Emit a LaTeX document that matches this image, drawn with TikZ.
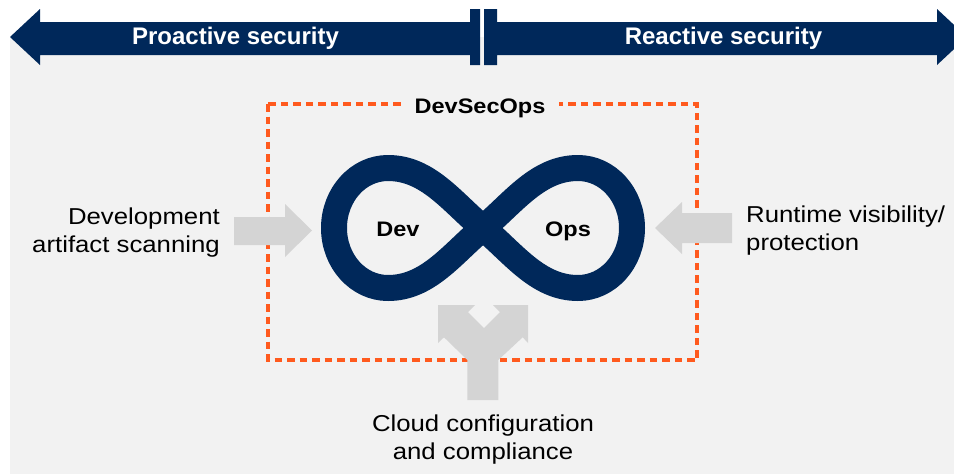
\documentclass[tikz,border=0pt]{standalone}
\usepackage{fontspec}
\setmainfont{Liberation Sans}
\newfontfamily\widefont{Liberation Sans}[FakeStretch=1.12]

\definecolor{navy}{HTML}{00285A}
\definecolor{panelgrey}{HTML}{F2F2F2}
\definecolor{arrowgrey}{HTML}{D4D4D4}
\definecolor{dsorange}{HTML}{FF5A1E}

\tikzset{
    toplabel/.style={font=\bfseries\fontsize{24}{28}\selectfont, text=white, inner sep=0pt},
    looplabel/.style={font=\widefont\bfseries\fontsize{21}{25}\selectfont, inner sep=0pt},
    sidetext/.style={font=\widefont\fontsize{23}{28.5}\selectfont, inner sep=0pt},
    blockarrow/.style={fill=arrowgrey, draw=none},
}

\begin{document}
\begin{tikzpicture}[x=1pt, y=-1pt]

        \useasboundingbox (0,0) rectangle (954,475);
        \fill[panelgrey] (10,37) rectangle (954,474);  % grey panel

        % Proactive / reactive arrows
        \fill[navy] (10,37) -- (40,9) -- (40,22) -- (470,22) -- (470,9) -- (480,9)
            -- (480,65) -- (470,65) -- (470,55) -- (40,55) -- (40,65) -- cycle;
        \fill[navy] (967,37) -- (937,65) -- (937,55) -- (497,55) -- (497,65) -- (484,65)
            -- (484,9) -- (497,9) -- (497,22) -- (937,22) -- (937,9) -- cycle;

        \node[toplabel, anchor=base] (proactive) at (235.5,44.5) {Proactive security};
        \node[toplabel, anchor=base] (reactive) at (723.5,44.5) {Reactive security};

        % DevSecOps box
        \draw[dsorange, line width=3.2pt, dash pattern=on 7.5pt off 5pt] (268,104) rectangle (697,360);
        \node[looplabel, fill=panelgrey, inner xsep=14pt, anchor=base] (devsecops) at (480,113) {DevSecOps};

        % Infinity loop
        \draw[navy, line width=26pt, line join=round]
            (578,168) .. controls (608,168) and (632,195) .. (632,228)
            .. controls (632,261) and (608,288) .. (578,288)
            .. controls (538,288) and (514,254) .. (483,228)
            .. controls (452,202) and (428,168) .. (388,168)
            .. controls (358,168) and (334,195) .. (334,228)
            .. controls (334,261) and (358,288) .. (388,288)
            .. controls (428,288) and (452,254) .. (483,228)
            .. controls (514,202) and (538,168) .. (578,168) -- cycle;

        \node[looplabel, anchor=base] (dev) at (398,236.5) {Dev};
        \node[looplabel, anchor=base] (ops) at (568,236.5) {Ops};

        % Grey arrows into the loop
        \fill[blockarrow] (234,217) -- (285,217) -- (285,204) -- (312,230.5) -- (285,257)
            -- (285,245) -- (234,245) -- cycle;
        \fill[blockarrow] (655,228) -- (682,202) -- (682,213) -- (732,213) -- (732,243)
            -- (682,243) -- (682,254) -- cycle;
        \fill[blockarrow] (438,305) -- (475,305) -- (468,312) -- (484,328) -- (500,312)
            -- (493,305) -- (528,305) -- (528,343) -- (522.7,337.3) -- (498.3,360)
            -- (498.3,400) -- (467.3,400) -- (467.3,360) -- (444,337.3) -- (438,343) -- cycle;

        \node[sidetext, anchor=east, align=right] (scanning) at (220,232.3) {Development\\artifact scanning};
        \node[sidetext, anchor=west, align=left] (runtime) at (746,230.3) {Runtime visibility/\\protection};
        \node[sidetext, anchor=north, align=center] (cloud) at (483,414.2) {Cloud configuration\\and compliance};

\end{tikzpicture}
\end{document}
